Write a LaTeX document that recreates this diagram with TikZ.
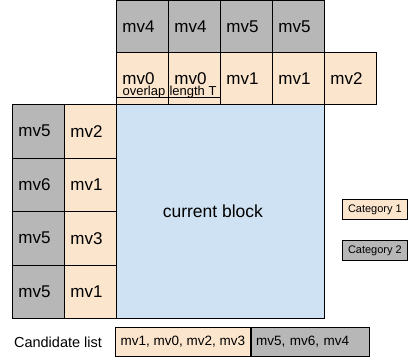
\documentclass[tikz,border=0pt]{standalone}
\usepackage{fontspec}
\setmainfont{Liberation Sans}
\definecolor{catone}{HTML}{FCE5CD}
\definecolor{cattwo}{HTML}{B7B7B7}
\definecolor{blockblue}{HTML}{CFE2F3}
\tikzset{
    mvcell/.style={draw, line width=0.8pt, anchor=north west, minimum width=52pt,
        minimum height=#1, inner xsep=6pt, inner ysep=0pt, text width=40pt,
        align=left, font=\fontsize{17}{20}\selectfont},
    listbox/.style={draw, line width=0.8pt, anchor=north west, minimum height=29pt,
        inner xsep=5pt, font=\fontsize{13.5}{15}\selectfont},
    legbox/.style={draw, line width=0.8pt, anchor=north west, minimum width=65pt,
        minimum height=20pt, inner xsep=4pt, font=\fontsize{11}{13}\selectfont}
}
\begin{document}
\begin{tikzpicture}[x=1pt, y=-1pt]
        \useasboundingbox (0,0) rectangle (409,360);

        % current block
        \node[draw, line width=0.8pt, fill=blockblue, anchor=north west,
            minimum width=208pt, minimum height=214pt] (cur) at (116,104) {};
        \node[font=\fontsize{17.5}{20}\selectfont] (curtext) at ([xshift=-7.5pt]cur.center) {current block};

        % above neighbours
        \foreach \v [count=\i from 0] in {4,4,5,5}
        {
            \node[mvcell=52pt, fill=cattwo] (top\i) at (116+52*\i, 0) {mv\v};
        }
        \foreach \v [count=\i from 0] in {0,0,1,1,2}
        {
            \node[mvcell=52pt, fill=catone] (mid\i) at (116+52*\i, 52) {mv\v};
        }
        \draw[line width=0.8pt] ([yshift=7pt]mid0.south west) -- ([yshift=7pt]mid1.south east);
        \node[anchor=base west, inner sep=0pt, font=\fontsize{13}{13}\selectfont] (overlap)
            at ([xshift=6.5pt, yshift=9.5pt]mid0.south west) {overlap\hspace{0.6pt} length T};

        % left neighbours
        \foreach \g/\o [count=\i from 0] in {5/2,6/1,5/3,5/1}
        {
            \node[mvcell=53.5pt, fill=cattwo] (lefta\i) at (12, 104+53.5*\i) {mv\g};
            \node[mvcell=53.5pt, fill=catone] (leftb\i) at (64, 104+53.5*\i) {mv\o};
        }

        % legend
        \node[legbox, fill=catone] (legone) at (342,199) {Category 1};
        \node[legbox, fill=cattwo] (legtwo) at (342,240) {Category 2};

        % candidate list
        \node[font=\fontsize{14.5}{16}\selectfont] (candlabel) at (58,342) {Candidate list};
        \node[listbox, fill=catone, minimum width=135pt] (listone) at (115,327) {mv1, mv0, mv2, mv3};
        \node[listbox, fill=cattwo, minimum width=118pt, text width=108pt, align=left] (listtwo)
            at (listone.north east) {mv5, mv6, mv4};
    \end{tikzpicture}
\end{document}
